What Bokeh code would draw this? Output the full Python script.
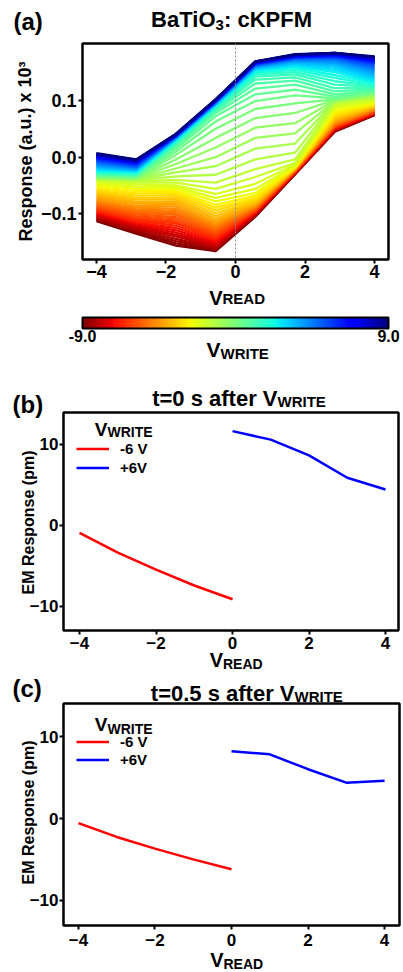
from math import pi
from bokeh.plotting import figure
from bokeh.core.properties import value
from bokeh.models import (Range1d, FixedTicker, Span, ColorBar, LinearColorMapper,
                          PrintfTickFormatter, Legend, LegendItem, ColumnDataSource)
from bokeh.transform import linear_cmap
from bokeh.layouts import column
from bokeh.embed import file_html
from bokeh.resources import INLINE

FONT = "Liberation Sans"

# ---------------- data: panel (a) ----------------
v_read = [-4.000, -2.857, -1.714, -0.571, 0.571, 1.714, 2.857, 4.000]
v_write = [-9.00, -8.75, -8.50, -8.25, -8.00, -7.75, -7.50, -7.25, -7.00, -6.75,
           -6.50, -6.25, -6.00, -5.75, -5.50, -5.25, -5.00, -4.75, -4.50, -4.25,
           -4.00, -3.75, -3.50, -3.25, -3.00, -2.75, -2.50, -2.25, -2.00, -1.75,
           -1.50, -1.25, -1.00, -0.75, -0.50, -0.25, 0.00, 0.25, 0.50, 0.75,
           1.00, 1.25, 1.50, 1.75, 2.00, 2.25, 2.50, 2.75, 3.00, 3.25,
           3.50, 3.75, 4.00, 4.25, 4.50, 4.75, 5.00, 5.25, 5.50, 5.75,
           6.00, 6.25, 6.50, 6.75, 7.00, 7.25, 7.50, 7.75, 8.00, 8.25,
           8.50, 8.75, 9.00]
# one row per V_WRITE, values at the eight V_READ points (response, a.u. x 10^3)
response_rows = [
    [-0.113, -0.135, -0.156, -0.166, -0.105, -0.030, 0.045, 0.074],
    [-0.111, -0.132, -0.152, -0.164, -0.104, -0.030, 0.046, 0.075],
    [-0.109, -0.130, -0.148, -0.162, -0.103, -0.029, 0.047, 0.075],
    [-0.107, -0.127, -0.144, -0.160, -0.102, -0.029, 0.047, 0.076],
    [-0.105, -0.125, -0.140, -0.158, -0.101, -0.028, 0.048, 0.076],
    [-0.103, -0.122, -0.137, -0.155, -0.100, -0.028, 0.049, 0.077],
    [-0.101, -0.120, -0.133, -0.153, -0.099, -0.027, 0.049, 0.077],
    [-0.099, -0.117, -0.129, -0.150, -0.098, -0.027, 0.050, 0.078],
    [-0.097, -0.115, -0.125, -0.147, -0.097, -0.026, 0.051, 0.078],
    [-0.095, -0.112, -0.121, -0.144, -0.096, -0.026, 0.052, 0.079],
    [-0.093, -0.110, -0.117, -0.141, -0.095, -0.025, 0.053, 0.080],
    [-0.091, -0.107, -0.114, -0.138, -0.094, -0.025, 0.054, 0.080],
    [-0.089, -0.104, -0.110, -0.135, -0.093, -0.024, 0.055, 0.081],
    [-0.087, -0.101, -0.106, -0.132, -0.092, -0.024, 0.056, 0.082],
    [-0.084, -0.098, -0.102, -0.129, -0.091, -0.023, 0.057, 0.082],
    [-0.082, -0.095, -0.099, -0.126, -0.089, -0.023, 0.058, 0.083],
    [-0.079, -0.092, -0.095, -0.123, -0.088, -0.022, 0.059, 0.084],
    [-0.077, -0.089, -0.091, -0.120, -0.087, -0.022, 0.061, 0.085],
    [-0.074, -0.086, -0.087, -0.117, -0.085, -0.021, 0.062, 0.086],
    [-0.071, -0.082, -0.083, -0.113, -0.084, -0.021, 0.064, 0.087],
    [-0.068, -0.079, -0.079, -0.109, -0.082, -0.020, 0.066, 0.088],
    [-0.065, -0.075, -0.075, -0.104, -0.080, -0.020, 0.068, 0.089],
    [-0.062, -0.072, -0.071, -0.099, -0.078, -0.019, 0.070, 0.090],
    [-0.059, -0.068, -0.067, -0.094, -0.075, -0.019, 0.073, 0.092],
    [-0.056, -0.064, -0.063, -0.089, -0.072, -0.018, 0.076, 0.093],
    [-0.052, -0.060, -0.060, -0.084, -0.068, -0.017, 0.079, 0.095],
    [-0.049, -0.056, -0.056, -0.078, -0.063, -0.016, 0.083, 0.096],
    [-0.046, -0.052, -0.053, -0.072, -0.056, -0.015, 0.087, 0.098],
    [-0.043, -0.048, -0.050, -0.065, -0.047, -0.013, 0.090, 0.100],
    [-0.041, -0.045, -0.045, -0.056, -0.035, -0.010, 0.093, 0.102],
    [-0.040, -0.043, -0.040, -0.045, -0.021, -0.004, 0.095, 0.104],
    [-0.039, -0.041, -0.034, -0.031, -0.004, 0.008, 0.097, 0.106],
    [-0.038, -0.040, -0.027, -0.016, 0.015, 0.024, 0.098, 0.107],
    [-0.037, -0.039, -0.020, 0.000, 0.034, 0.042, 0.099, 0.109],
    [-0.036, -0.038, -0.012, 0.017, 0.052, 0.060, 0.100, 0.110],
    [-0.035, -0.037, -0.004, 0.034, 0.069, 0.078, 0.101, 0.112],
    [-0.034, -0.036, 0.004, 0.050, 0.085, 0.095, 0.102, 0.113],
    [-0.033, -0.035, 0.010, 0.063, 0.099, 0.109, 0.104, 0.115],
    [-0.032, -0.034, 0.015, 0.072, 0.111, 0.119, 0.107, 0.116],
    [-0.031, -0.033, 0.019, 0.078, 0.121, 0.128, 0.111, 0.118],
    [-0.030, -0.032, 0.022, 0.082, 0.130, 0.135, 0.116, 0.120],
    [-0.029, -0.031, 0.024, 0.085, 0.137, 0.141, 0.122, 0.122],
    [-0.028, -0.030, 0.026, 0.087, 0.142, 0.146, 0.128, 0.124],
    [-0.027, -0.029, 0.027, 0.088, 0.146, 0.150, 0.134, 0.126],
    [-0.026, -0.028, 0.028, 0.089, 0.149, 0.154, 0.140, 0.128],
    [-0.025, -0.027, 0.029, 0.090, 0.151, 0.157, 0.145, 0.131],
    [-0.023, -0.026, 0.030, 0.091, 0.153, 0.160, 0.150, 0.133],
    [-0.022, -0.025, 0.031, 0.092, 0.155, 0.162, 0.154, 0.136],
    [-0.020, -0.024, 0.032, 0.093, 0.156, 0.164, 0.158, 0.139],
    [-0.019, -0.023, 0.033, 0.094, 0.157, 0.166, 0.161, 0.142],
    [-0.017, -0.022, 0.033, 0.094, 0.158, 0.167, 0.164, 0.145],
    [-0.016, -0.021, 0.034, 0.095, 0.159, 0.169, 0.166, 0.148],
    [-0.014, -0.020, 0.034, 0.095, 0.160, 0.170, 0.168, 0.151],
    [-0.013, -0.019, 0.035, 0.096, 0.161, 0.171, 0.170, 0.153],
    [-0.011, -0.018, 0.035, 0.096, 0.162, 0.172, 0.172, 0.156],
    [-0.010, -0.017, 0.036, 0.097, 0.162, 0.173, 0.173, 0.158],
    [-0.008, -0.016, 0.036, 0.097, 0.163, 0.174, 0.175, 0.160],
    [-0.007, -0.015, 0.037, 0.098, 0.163, 0.175, 0.176, 0.162],
    [-0.006, -0.014, 0.037, 0.098, 0.164, 0.175, 0.177, 0.164],
    [-0.004, -0.013, 0.037, 0.098, 0.164, 0.176, 0.178, 0.166],
    [-0.003, -0.012, 0.038, 0.099, 0.165, 0.177, 0.179, 0.167],
    [-0.002, -0.011, 0.038, 0.099, 0.165, 0.177, 0.179, 0.168],
    [-0.001, -0.010, 0.038, 0.099, 0.166, 0.178, 0.180, 0.170],
    [0.000, -0.009, 0.039, 0.100, 0.166, 0.178, 0.181, 0.171],
    [0.001, -0.008, 0.039, 0.100, 0.167, 0.179, 0.181, 0.172],
    [0.002, -0.008, 0.039, 0.100, 0.167, 0.179, 0.182, 0.173],
    [0.003, -0.007, 0.040, 0.101, 0.167, 0.180, 0.182, 0.174],
    [0.004, -0.007, 0.040, 0.101, 0.168, 0.180, 0.183, 0.175],
    [0.005, -0.006, 0.040, 0.101, 0.168, 0.180, 0.183, 0.175],
    [0.005, -0.006, 0.040, 0.101, 0.168, 0.181, 0.183, 0.176],
    [0.006, -0.005, 0.041, 0.102, 0.168, 0.181, 0.184, 0.176],
    [0.006, -0.005, 0.041, 0.102, 0.169, 0.181, 0.184, 0.177],
    [0.007, -0.004, 0.041, 0.102, 0.169, 0.182, 0.184, 0.178],
]

# ---------------- data: panels (b) and (c) ----------------
b_read_neg = [-4, -3, -2, -1, 0]
b_em_neg = [-0.95, -3.4, -5.5, -7.45, -9.15]
b_read_pos = [0, 1, 2, 3, 4]
b_em_pos = [11.6, 10.55, 8.6, 5.85, 4.4]

c_read_neg = [-4, -3, -2, -1, 0]
c_em_neg = [-0.55, -2.25, -3.68, -5.0, -6.2]
c_read_pos = [0, 1, 2, 3, 4]
c_em_pos = [8.25, 7.87, 6.05, 4.4, 4.65]

legend_labels = ["-6 V", "+6V"]

# ---------------- ticks ----------------
x_tick_vals = [-4, -2, 0, 2, 4]
x_tick_text = ["\u22124", "\u22122", "0", "2", "4"]
a_y_tick_vals = [-0.1, 0.0, 0.1]
a_y_tick_text = ["\u22120.1", "0.0", "0.1"]
em_y_tick_vals = [-10, 0, 10]
em_y_tick_text = ["\u221210", "0", "10"]
cbar_ticks = [-9, 9]


# ---------------- jet colormap (matplotlib segment definition) ----------------
def _seg(t, pts):
    for (x0, y0), (x1, y1) in zip(pts[:-1], pts[1:]):
        if x0 <= t <= x1:
            return y0 + (y1 - y0) * (t - x0) / (x1 - x0)
    return pts[-1][1]


JR = [(0, 0), (0.35, 0), (0.66, 1), (0.89, 1), (1, 0.5)]
JG = [(0, 0), (0.125, 0), (0.375, 1), (0.64, 1), (0.91, 0), (1, 0)]
JB = [(0, 0.5), (0.11, 1), (0.34, 1), (0.65, 0), (1, 0)]


def jet_hex(t):
    r, g, b = (_seg(t, JR), _seg(t, JG), _seg(t, JB))
    return "#%02x%02x%02x" % (round(r * 255), round(g * 255), round(b * 255))


# reversed jet: -9 -> dark red, +9 -> dark blue
palette = [jet_hex(1 - i / 255) for i in range(256)]


def make_fig(**kw):
    p = figure(output_backend="svg", toolbar_location=None, **kw)
    try:
        p.frame_align = False   # keep each panel's own frame position inside the column
    except Exception:
        pass
    p.background_fill_color = "white"
    p.border_fill_color = "white"
    return p


def style_axes(p, xt, xtt, yt, ytt, fs, x_standoff, y_standoff, tick_out):
    p.xaxis.ticker = FixedTicker(ticks=xt)
    p.xaxis.major_label_overrides = dict(zip(xt, xtt))
    p.yaxis.ticker = FixedTicker(ticks=yt)
    p.yaxis.major_label_overrides = dict(zip(yt, ytt))
    for ax in (p.xaxis[0], p.yaxis[0]):
        ax.axis_line_color = None
        ax.major_tick_out = tick_out
        ax.major_tick_in = 0
        ax.major_tick_line_width = 2
        ax.major_tick_line_color = "black"
        ax.minor_tick_line_color = None
        ax.major_label_text_font = FONT
        ax.major_label_text_font_style = "bold"
        ax.major_label_text_font_size = f"{fs}px"
        ax.major_label_text_color = "black"
    p.xaxis.major_label_standoff = x_standoff
    p.yaxis.major_label_standoff = y_standoff
    p.xgrid.visible = False
    p.ygrid.visible = False
    p.outline_line_color = "black"
    p.outline_line_width = 2.5
    p.outline_line_alpha = 1.0


BASE_SHIFT = 4  # rendered alphabetic baselines land a few px lower than requested


def add_texts(p, L, T, FW, FH, items):
    """items: (text, px, py, size, align, baseline, angle) with px, py in the figure's pixels."""
    x0, x1 = p.x_range.start, p.x_range.end
    y0, y1 = p.y_range.start, p.y_range.end
    d = dict(x=[], y=[], text=[], size=[], align=[], base=[], angle=[])
    for text, px, py, size, align, base, ang in items:
        if base == "alphabetic":
            py = py - BASE_SHIFT
        d["x"].append(x0 + (px - L) * (x1 - x0) / FW)
        d["y"].append(y1 - (py - T) * (y1 - y0) / FH)
        d["text"].append(text)
        d["size"].append(f"{size}px")
        d["align"].append(align)
        d["base"].append(base)
        d["angle"].append(ang)
    p.text(x="x", y="y", text="text", text_font_size="size", text_align="align",
           text_baseline="base", angle="angle", source=ColumnDataSource(d),
           text_font=value(FONT), text_font_style="bold", text_color="black", level="overlay")


W = 403
A = "alphabetic"

# ================= panel (a) =================
LA, TA, RA, BA, HA = 82, 43, 15, 109, 368
pa = make_fig(width=W, height=HA, x_range=Range1d(-4.4, 4.4), y_range=Range1d(-0.1806, 0.2006),
              min_border_left=LA, min_border_right=RA, min_border_top=TA, min_border_bottom=BA)
style_axes(pa, x_tick_vals, x_tick_text, a_y_tick_vals, a_y_tick_text, 18, 1, 2, 4)
# blank axis label, used only as a spacer so that the colour bar sits lower
pa.xaxis.axis_label = "\u00a0"
pa.xaxis.axis_label_text_font_size = "20px"
pa.xaxis.axis_label_standoff = 12

src = ColumnDataSource(dict(xs=[v_read] * len(v_write), ys=response_rows, vw=v_write))
pa.multi_line("xs", "ys", source=src, line_width=2.3, line_join="round",
              line_color=linear_cmap("vw", palette, -9, 9))
pa.add_layout(Span(location=0, dimension="height", line_color="#8a8a8a",
                   line_dash="2 2", line_width=1))

mapper = LinearColorMapper(palette=palette, low=-9, high=9)
cb = ColorBar(color_mapper=mapper, orientation="horizontal", height=11, width="auto",
              ticker=FixedTicker(ticks=cbar_ticks), formatter=PrintfTickFormatter(format="%.1f"),
              major_label_text_font=FONT, major_label_text_font_style="bold",
              major_label_text_font_size="16px", major_label_text_color="black",
              major_tick_line_color=None, minor_tick_line_color=None,
              bar_line_color="black", bar_line_width=2, padding=0, margin=0,
              background_fill_color=None, border_line_color=None, label_standoff=1)
pa.add_layout(cb, "below")

add_texts(pa, LA, TA, W - LA - RA, HA - TA - BA, [
    ("(a)", 13, 25, 24, "left", A, 0.0),
    ("BaTiO", 215, 23, 22, "right", A, 0.0),
    ("3", 215, 28, 15, "left", A, 0.0),
    (": cKPFM", 223.5, 23, 22, "left", A, 0.0),
    ("Response (a.u.) x 10\u00b3", 25, 151, 18, "center", "middle", pi / 2),
    ("V", 222, 301, 20, "right", A, 0.0),
    ("READ", 222, 302, 15, "left", A, 0.0),
    ("V", 220, 353, 21, "right", A, 0.0),
    ("WRITE", 220, 357, 15, "left", A, 0.0),
])


# ================= panels (b), (c) =================
def em_panel(height, L, T, bottom, right, yr, xr, neg_x, neg_y, pos_x, pos_y,
             leg_loc, leg_spacing, x_standoff, texts):
    p = make_fig(width=W, height=height, x_range=Range1d(*xr), y_range=Range1d(*yr),
                 min_border_left=L, min_border_right=right, min_border_top=T,
                 min_border_bottom=bottom)
    style_axes(p, x_tick_vals, x_tick_text, em_y_tick_vals, em_y_tick_text, 17, x_standoff, 1, 4)
    r_neg = p.line(neg_x, neg_y, line_color="#ff0000", line_width=2.5)
    r_pos = p.line(pos_x, pos_y, line_color="#0000ff", line_width=2.5)
    leg = Legend(items=[LegendItem(label=legend_labels[0], renderers=[r_neg]),
                        LegendItem(label=legend_labels[1], renderers=[r_pos])],
                 location=leg_loc, orientation="vertical", padding=0, margin=0,
                 spacing=leg_spacing, glyph_width=33, glyph_height=15, label_height=15,
                 label_standoff=11, label_text_font=FONT, label_text_font_style="bold",
                 label_text_font_size="15px", label_text_color="black",
                 border_line_color=None, background_fill_alpha=0)
    p.add_layout(leg)
    add_texts(p, L, T, W - L - right, height - T - bottom, texts)
    return p


# panel (b): page rows 368..672, frame 412..630
pb = em_panel(304, 63, 44, 42, 5, (-13.0, 13.9), (-4.42, 4.34),
              b_read_neg, b_em_neg, b_read_pos, b_em_pos, (13, 154.5), 2, 2, [
                  ("(b)", 12, 40, 24, "left", A, 0.0),
                  ("t=0 s after V", 277, 34, 22, "right", A, 0.0),
                  ("WRITE", 277, 37, 15, "left", A, 0.0),
                  ("V", 107, 65, 19, "right", A, 0.0),
                  ("WRITE", 107, 67, 14, "left", A, 0.0),
                  ("EM Response (pm)", 28, 154, 16, "center", "middle", pi / 2),
                  ("V", 222.5, 295, 20, "right", A, 0.0),
                  ("READ", 222.5, 299, 14, "left", A, 0.0),
              ])
# panel (c): page rows 672..972, frame 703..925
pc = em_panel(300, 63, 31, 47, 4, (-13.1, 14.1), (-4.39, 4.39),
              c_read_neg, c_em_neg, c_read_pos, c_em_pos, (13, 157), 1, 4, [
                  ("(c)", 12, 20, 24, "left", A, 0.0),
                  ("t=0.5 s after V", 294, 25, 22, "right", A, 0.0),
                  ("WRITE", 294, 28, 15, "left", A, 0.0),
                  ("V", 107, 56, 19, "right", A, 0.0),
                  ("WRITE", 107, 60, 14, "left", A, 0.0),
                  ("EM Response (pm)", 28, 140, 16, "center", "middle", pi / 2),
                  ("V", 223, 291, 20, "right", A, 0.0),
                  ("READ", 223, 295, 14, "left", A, 0.0),
              ])

layout = column(pa, pb, pc, spacing=0)
open("out.html", "w").write(file_html(layout, INLINE))
